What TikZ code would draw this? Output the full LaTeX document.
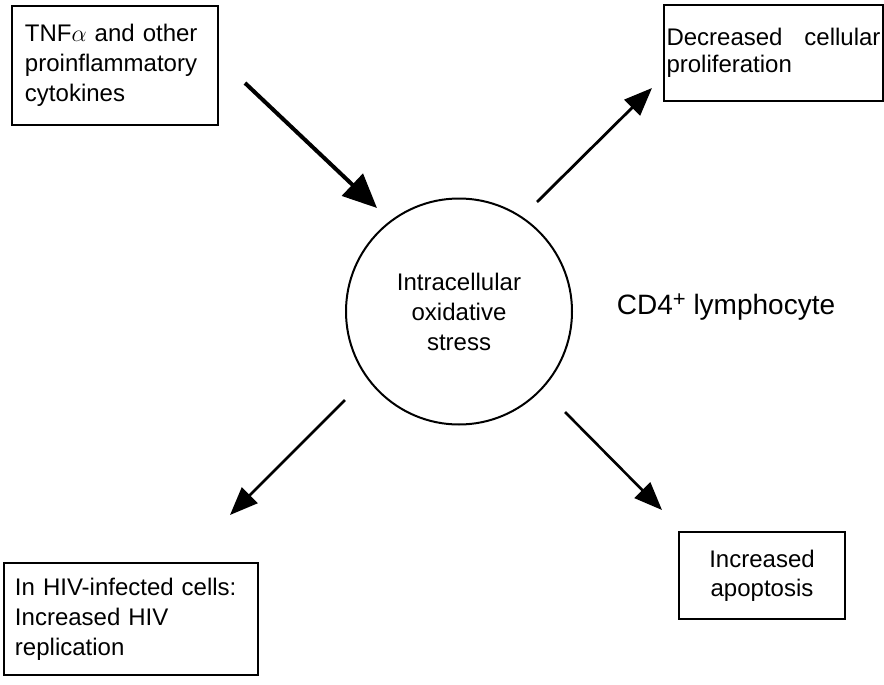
\documentclass[tikz,border=0pt]{standalone}
\usepackage{fontspec}
\setmainfont{Liberation Sans}
\usetikzlibrary{arrows.meta}
\tikzset{
	box/.style={draw, line width=0.7pt, inner sep=0pt, font=\fontsize{12}{15}\selectfont},
	push/.style={-{Triangle[length=14pt,width=11pt]}, line width=1.4pt}
}
\begin{document}
\begin{tikzpicture}[x=0.5pt, y=-0.5pt]
	\useasboundingbox (0,0) rectangle (884,685);
	\node[box, minimum width=103pt, minimum height=59.5pt, text width=90pt, align=left] (tnf) at (115,65.5) {TNF$\alpha$ and other\\proinflammatory\\cytokines};
	\node[box, minimum width=109.5pt, minimum height=48pt, text width=107pt, align=justify, font=\fontsize{12}{13.5}\selectfont] (prolif) at (773.5,53) {Decreased cellular proliferation};
	\node[box, minimum width=127pt, minimum height=56pt, text width=116pt, align=left] (hiv) at (131,619) {In HIV-infected cells:\\Increased HIV\\replication};
	\node[box, minimum width=83pt, minimum height=43.5pt, align=center, font=\fontsize{12}{14.5}\selectfont] (apop) at (762,575.5) {Increased\\apoptosis};
	\node[circle, draw, line width=1pt, minimum size=113pt, align=center, font=\fontsize{12}{15}\selectfont] (stress) at (459,311.5) {Intracellular\\oxidative\\stress};
	\node[font=\fontsize{14}{17}\selectfont] (cell) at (726,307.5) {CD4\raisebox{4pt}{\fontsize{11}{11}\selectfont +}\ lymphocyte};
	\coordinate (in-a) at (245,83);
	\coordinate (in-b) at (377,208);
	\coordinate (up-a) at (537,202);
	\coordinate (up-b) at (652,88);
	\coordinate (left-a) at (345,400);
	\coordinate (left-b) at (230,515);
	\coordinate (right-a) at (565,412);
	\coordinate (right-b) at (662,510);
	\draw[push, line width=2pt, -{Triangle[length=17pt,width=15pt]}] (in-a) -- (in-b);
	\draw[push] (up-a) -- (up-b);
	\draw[push, line width=1.3pt] (left-a) -- (left-b);
	\draw[push, line width=1.3pt] (right-a) -- (right-b);
\end{tikzpicture}
\end{document}
